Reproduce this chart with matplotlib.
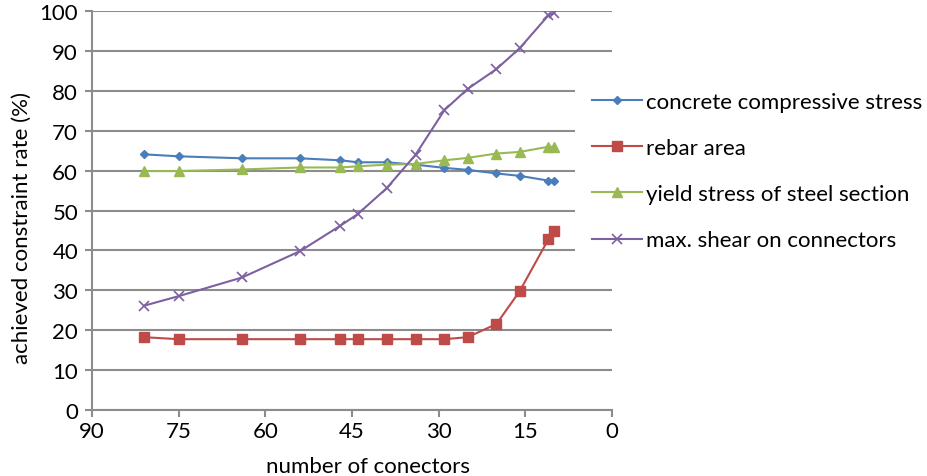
import matplotlib.pyplot as plt
import numpy as np

# Data
connectors = [81, 75, 64, 54, 47, 44, 39, 34, 29, 25, 20, 16, 11, 10]
concrete = [64.1, 63.6, 63.1, 63.1, 62.6, 62.1, 62.1, 61.5, 60.7, 60.2, 59.3, 58.7, 57.5, 57.5]
rebar = [18.2, 17.7, 17.7, 17.7, 17.7, 17.7, 17.7, 17.7, 17.7, 18.2, 21.5, 29.7, 42.8, 44.9]
yield_steel = [59.9, 59.9, 60.3, 60.8, 60.8, 61.1, 61.5, 61.7, 62.6, 63.2, 64.3, 64.7, 66.0, 66.0]
shear = [26.1, 28.5, 33.2, 39.8, 46.2, 49.1, 55.6, 64.0, 75.2, 80.5, 85.5, 90.7, 99.0, 99.6]

labels = ["concrete compressive stress", "rebar area",
          "yield stress of steel section", "max. shear on connectors"]
xticks = [90, 75, 60, 45, 30, 15, 0]
yticks = list(range(0, 101, 10))

plt.rcParams['font.family'] = ['Lato', 'DejaVu Sans']
fs = 16

fig = plt.figure(figsize=(9.28, 4.77), dpi=100)
ax = fig.add_axes([92 / 928, 1 - 410.7 / 477, 520 / 928, 398.4 / 477])

ax.plot(connectors, concrete, color='#4A7EBB', marker='D', markersize=4.5, lw=1.5, label=labels[0])
ax.plot(connectors, rebar, color='#BE4B48', marker='s', markersize=6.5, lw=1.5, label=labels[1])
ax.plot(connectors, yield_steel, color='#98B954', marker='^', markersize=7, lw=1.5, label=labels[2])
ax.plot(connectors, shear, color='#7D60A0', marker='x', markersize=6.5, mew=1.2, lw=1.5, label=labels[3])

ax.set_xlim(90, 0)
ax.set_ylim(0, 100)
ax.set_xticks(xticks)
ax.set_yticks(yticks)
ax.grid(axis='y', color='#8c8c8c', lw=1.5)
ax.set_axisbelow(True)
for s in ['top', 'right']:
    ax.spines[s].set_visible(False)
for s in ['left', 'bottom']:
    ax.spines[s].set_color('#8c8c8c')
    ax.spines[s].set_linewidth(1.5)
ax.tick_params(colors='#8c8c8c', width=1.5, length=5, labelcolor='black', labelsize=fs)
ax.tick_params(axis='x', pad=3)
ax.tick_params(axis='y', pad=5)

ax.set_xlabel("number of conectors", fontsize=fs, va='center')
ax.xaxis.set_label_coords(0.53, -0.141)
ax.set_ylabel("achieved constraint rate (%)", fontsize=fs, va='center')
ax.yaxis.set_label_coords(-0.135, 0.459)

h, l = ax.get_legend_handles_labels()
leg = fig.legend(h, l, loc='upper left', bbox_to_anchor=(575 / 928, 1 - 76 / 477),
                 fontsize=fs, frameon=True, facecolor='white', edgecolor='none',
                 framealpha=1, fancybox=False, borderpad=0.75, borderaxespad=0,
                 handlelength=2.25, handletextpad=0.2, labelspacing=1.18)

fig.savefig("out.png", dpi=100)
